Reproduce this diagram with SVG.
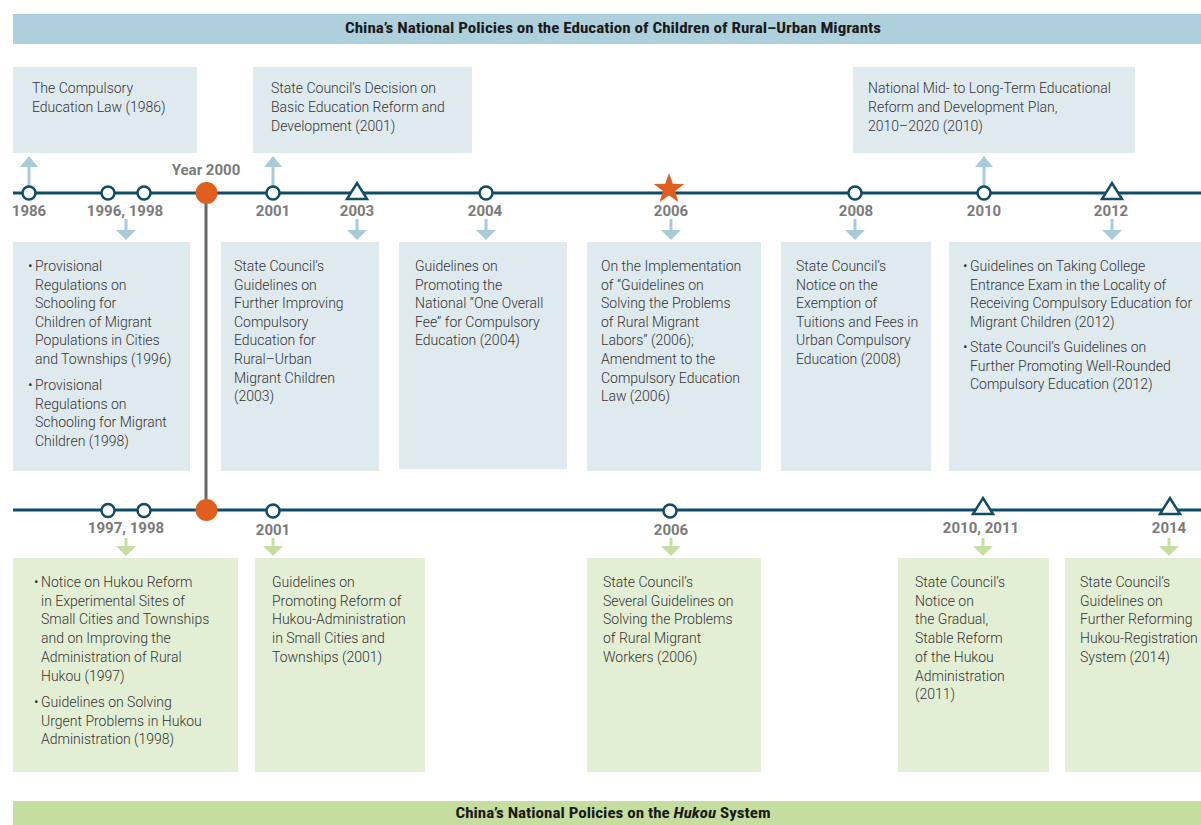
<svg xmlns="http://www.w3.org/2000/svg" width="1201" height="825" viewBox="0 0 1201 825">
<defs>
<style>
.banner{font-family:"Roboto Condensed","Liberation Sans",sans-serif;font-weight:bold;font-size:14px;fill:#1a1a1a;text-anchor:middle}
.yr{font-family:Roboto,"Liberation Sans",sans-serif;font-weight:bold;font-size:15px;fill:#7a7a7a;text-anchor:middle}
.body{font-family:Roboto,"Liberation Sans",sans-serif;font-weight:300;font-size:14px;fill:#333333}
.boxB{fill:#dfeaef}
.boxG{fill:#e3efd5}
.tl{stroke:#0f4c66;stroke-width:3;fill:none}
.dot{fill:#ffffff;stroke:#0f4c66;stroke-width:2.5}
.tri{fill:#ffffff;stroke:#0f4c66;stroke-width:2.5;stroke-linejoin:miter}
.arB{stroke:#a9cbd9;stroke-width:3;fill:none}
.hdB{fill:#a9cbd9}
.arG{stroke:#c5dea0;stroke-width:3;fill:none}
.hdG{fill:#c5dea0}
</style>
</defs>
<rect id="banner-top" x="13" y="14" width="1188" height="30" fill="#aecfdc"/>
<text class="banner" x="613" y="33" textLength="536" lengthAdjust="spacingAndGlyphs">China’s National Policies on the Education of Children of Rural–Urban Migrants</text>
<rect id="banner-bottom" x="13" y="801" width="1188" height="24" fill="#c5dea0"/>
<text class="banner" x="613" y="818" textLength="315" lengthAdjust="spacingAndGlyphs">China’s National Policies on the <tspan font-style="italic">Hukou</tspan> System</text>

<g id="connectors">
<line class="tl" x1="13" y1="193" x2="1201" y2="193"/>
<line class="tl" x1="13" y1="510" x2="1201" y2="510"/>
<line x1="206" y1="193" x2="206" y2="510" stroke="#666666" stroke-width="3"/>
<line class="arB" x1="29" y1="186" x2="29" y2="166"/><polygon class="hdB" points="20,167 38,167 29,156"/>
<line class="arB" x1="273" y1="186" x2="273" y2="166"/><polygon class="hdB" points="264,167 282,167 273,156"/>
<line class="arB" x1="984" y1="186" x2="984" y2="166"/><polygon class="hdB" points="975,167 993,167 984,156"/>
<line class="arB" x1="126" y1="219" x2="126" y2="231"/><polygon class="hdB" points="116,230 136,230 126,240"/>
<line class="arB" x1="357" y1="219" x2="357" y2="231"/><polygon class="hdB" points="347,230 367,230 357,240"/>
<line class="arB" x1="486" y1="219" x2="486" y2="231"/><polygon class="hdB" points="476,230 496,230 486,240"/>
<line class="arB" x1="671" y1="219" x2="671" y2="231"/><polygon class="hdB" points="661,230 681,230 671,240"/>
<line class="arB" x1="855" y1="219" x2="855" y2="231"/><polygon class="hdB" points="845,230 865,230 855,240"/>
<line class="arB" x1="1112" y1="219" x2="1112" y2="231"/><polygon class="hdB" points="1102,230 1122,230 1112,240"/>
<line class="arG" x1="126" y1="538" x2="126" y2="547"/><polygon class="hdG" points="116,546 136,546 126,556"/>
<line class="arG" x1="273" y1="538" x2="273" y2="547"/><polygon class="hdG" points="263,546 283,546 273,556"/>
<line class="arG" x1="671" y1="538" x2="671" y2="547"/><polygon class="hdG" points="661,546 681,546 671,556"/>
<line class="arG" x1="983" y1="538" x2="983" y2="547"/><polygon class="hdG" points="973,546 993,546 983,556"/>
<line class="arG" x1="1169" y1="538" x2="1169" y2="547"/><polygon class="hdG" points="1159,546 1179,546 1169,556"/>
</g>

<g id="markers-top">
<circle class="dot" cx="29" cy="193" r="6.5"/>
<circle class="dot" cx="108" cy="193" r="6.5"/>
<circle class="dot" cx="144" cy="193" r="6.5"/>
<circle cx="206.5" cy="193" r="11" fill="#e05f20"/>
<circle class="dot" cx="273" cy="193" r="6.5"/>
<polygon class="tri" points="347,199 367,199 357,183"/>
<circle class="dot" cx="486" cy="193" r="6.5"/>
<polygon fill="#e05f20" points="669,173 672.8,183.8 684.2,184 675.1,191 678.4,202 669,195.5 659.6,202 662.9,191 653.8,184 665.2,183.8"/>
<circle class="dot" cx="855" cy="193" r="6.5"/>
<circle class="dot" cx="984" cy="193" r="6.5"/>
<polygon class="tri" points="1102,199 1122,199 1112,183"/>
<text class="yr" x="206" y="175">Year 2000</text>
<text class="yr" x="29" y="216">1986</text>
<text class="yr" x="125" y="216">1996, 1998</text>
<text class="yr" x="273" y="216">2001</text>
<text class="yr" x="357" y="216">2003</text>
<text class="yr" x="485" y="216">2004</text>
<text class="yr" x="671" y="216">2006</text>
<text class="yr" x="856" y="216">2008</text>
<text class="yr" x="984" y="216">2010</text>
<text class="yr" x="1111" y="216">2012</text>
</g>

<g id="markers-bottom">
<circle class="dot" cx="108" cy="510.5" r="6.5"/>
<circle class="dot" cx="144" cy="510.5" r="6.5"/>
<circle cx="206.5" cy="510" r="11" fill="#e05f20"/>
<circle class="dot" cx="273" cy="511" r="6.5"/>
<circle class="dot" cx="670" cy="511" r="6.5"/>
<polygon class="tri" points="973,514 993,514 983,498"/>
<polygon class="tri" points="1160,514 1180,514 1170,498"/>
<text class="yr" x="126" y="533">1997, 1998</text>
<text class="yr" x="273" y="535">2001</text>
<text class="yr" x="671" y="535">2006</text>
<text class="yr" x="981" y="533">2010, 2011</text>
<text class="yr" x="1169" y="533">2014</text>
</g>

<g id="node-1986">
<rect class="boxB" x="13" y="67" width="184" height="86"/>
<text class="body"><tspan x="32" y="93">The Compulsory</tspan><tspan x="32" y="112">Education Law (1986)</tspan></text>
</g>
<g id="node-2001-decision">
<rect class="boxB" x="253" y="67" width="219" height="86"/>
<text class="body"><tspan x="271" y="93">State Council’s Decision on</tspan><tspan x="271" y="112">Basic Education Reform and</tspan><tspan x="271" y="131">Development (2001)</tspan></text>
</g>
<g id="node-2010-plan">
<rect class="boxB" x="853" y="67" width="282" height="86"/>
<text class="body"><tspan x="868" y="93">National Mid- to Long-Term Educational</tspan><tspan x="868" y="112">Reform and Development Plan,</tspan><tspan x="868" y="131">2010–2020 (2010)</tspan></text>
</g>

<g id="node-1996-1998">
<rect class="boxB" x="13" y="242" width="177" height="229"/>
<text class="body"><tspan x="28" y="271">•</tspan><tspan x="35" y="271">Provisional</tspan><tspan x="35" dy="18.6">Regulations on</tspan><tspan x="35" dy="18.6">Schooling for</tspan><tspan x="35" dy="18.6">Children of Migrant</tspan><tspan x="35" dy="18.6">Populations in Cities</tspan><tspan x="35" dy="18.6">and Townships (1996)</tspan></text>
<text class="body"><tspan x="28" y="390">•</tspan><tspan x="35" y="390">Provisional</tspan><tspan x="35" dy="18.6">Regulations on</tspan><tspan x="35" dy="18.6">Schooling for Migrant</tspan><tspan x="35" dy="18.6">Children (1998)</tspan></text>
</g>
<g id="node-2003">
<rect class="boxB" x="221" y="242" width="158" height="229"/>
<text class="body"><tspan x="234" y="271">State Council’s</tspan><tspan x="234" dy="18.6">Guidelines on</tspan><tspan x="234" dy="18.6">Further Improving</tspan><tspan x="234" dy="18.6">Compulsory</tspan><tspan x="234" dy="18.6">Education for</tspan><tspan x="234" dy="18.6">Rural–Urban</tspan><tspan x="234" dy="18.6">Migrant Children</tspan><tspan x="234" dy="18.6">(2003)</tspan></text>
</g>
<g id="node-2004">
<rect class="boxB" x="399" y="242" width="168" height="227"/>
<text class="body"><tspan x="415" y="271">Guidelines on</tspan><tspan x="415" dy="18.6">Promoting the</tspan><tspan x="415" dy="18.6">National “One Overall</tspan><tspan x="415" dy="18.6">Fee” for Compulsory</tspan><tspan x="415" dy="18.6">Education (2004)</tspan></text>
</g>
<g id="node-2006">
<rect class="boxB" x="587" y="242" width="174" height="229"/>
<text class="body"><tspan x="601" y="271">On the Implementation</tspan><tspan x="601" dy="18.6">of “Guidelines on</tspan><tspan x="601" dy="18.6">Solving the Problems</tspan><tspan x="601" dy="18.6">of Rural Migrant</tspan><tspan x="601" dy="18.6">Labors” (2006);</tspan><tspan x="601" dy="18.6">Amendment to the</tspan><tspan x="601" dy="18.6">Compulsory Education</tspan><tspan x="601" dy="18.6">Law (2006)</tspan></text>
</g>
<g id="node-2008">
<rect class="boxB" x="781" y="242" width="150" height="229"/>
<text class="body"><tspan x="796" y="271">State Council’s</tspan><tspan x="796" dy="18.6">Notice on the</tspan><tspan x="796" dy="18.6">Exemption of</tspan><tspan x="796" dy="18.6">Tuitions and Fees in</tspan><tspan x="796" dy="18.6">Urban Compulsory</tspan><tspan x="796" dy="18.6">Education (2008)</tspan></text>
</g>
<g id="node-2012">
<rect class="boxB" x="949" y="242" width="252" height="229"/>
<text class="body"><tspan x="963" y="271">•</tspan><tspan x="970" y="271">Guidelines on Taking College</tspan><tspan x="970" dy="18.6">Entrance Exam in the Locality of</tspan><tspan x="970" dy="18.6">Receiving Compulsory Education for</tspan><tspan x="970" dy="18.6">Migrant Children (2012)</tspan></text>
<text class="body"><tspan x="963" y="352">•</tspan><tspan x="970" y="352">State Council’s Guidelines on</tspan><tspan x="970" dy="18.6">Further Promoting Well-Rounded</tspan><tspan x="970" dy="18.6">Compulsory Education (2012)</tspan></text>
</g>

<g id="node-1997-1998">
<rect class="boxG" x="13" y="558" width="225" height="214"/>
<text class="body"><tspan x="34" y="587">•</tspan><tspan x="41" y="587">Notice on Hukou Reform</tspan><tspan x="41" dy="18.7">in Experimental Sites of</tspan><tspan x="41" dy="18.7">Small Cities and Townships</tspan><tspan x="41" dy="18.7">and on Improving the</tspan><tspan x="41" dy="18.7">Administration of Rural</tspan><tspan x="41" dy="18.7">Hukou (1997)</tspan></text>
<text class="body"><tspan x="34" y="707">•</tspan><tspan x="41" y="707">Guidelines on Solving</tspan><tspan x="41" dy="18.7">Urgent Problems in Hukou</tspan><tspan x="41" dy="18.7">Administration (1998)</tspan></text>
</g>
<g id="node-2001-hukou">
<rect class="boxG" x="255" y="558" width="170" height="214"/>
<text class="body"><tspan x="272" y="587">Guidelines on</tspan><tspan x="272" dy="18.7">Promoting Reform of</tspan><tspan x="272" dy="18.7">Hukou-Administration</tspan><tspan x="272" dy="18.7">in Small Cities and</tspan><tspan x="272" dy="18.7">Townships (2001)</tspan></text>
</g>
<g id="node-2006-hukou">
<rect class="boxG" x="587" y="558" width="174" height="214"/>
<text class="body"><tspan x="603" y="587">State Council’s</tspan><tspan x="603" dy="18.7">Several Guidelines on</tspan><tspan x="603" dy="18.7">Solving the Problems</tspan><tspan x="603" dy="18.7">of Rural Migrant</tspan><tspan x="603" dy="18.7">Workers (2006)</tspan></text>
</g>
<g id="node-2011-hukou">
<rect class="boxG" x="898" y="558" width="151" height="214"/>
<text class="body"><tspan x="915" y="587">State Council’s</tspan><tspan x="915" dy="18.7">Notice on</tspan><tspan x="915" dy="18.7">the Gradual,</tspan><tspan x="915" dy="18.7">Stable Reform</tspan><tspan x="915" dy="18.7">of the Hukou</tspan><tspan x="915" dy="18.7">Administration</tspan><tspan x="915" dy="18.7">(2011)</tspan></text>
</g>
<g id="node-2014-hukou">
<rect class="boxG" x="1065" y="558" width="136" height="214"/>
<text class="body"><tspan x="1080" y="587">State Council’s</tspan><tspan x="1080" dy="18.7">Guidelines on</tspan><tspan x="1080" dy="18.7">Further Reforming</tspan><tspan x="1080" dy="18.7">Hukou-Registration</tspan><tspan x="1080" dy="18.7">System (2014)</tspan></text>
</g>
</svg>
